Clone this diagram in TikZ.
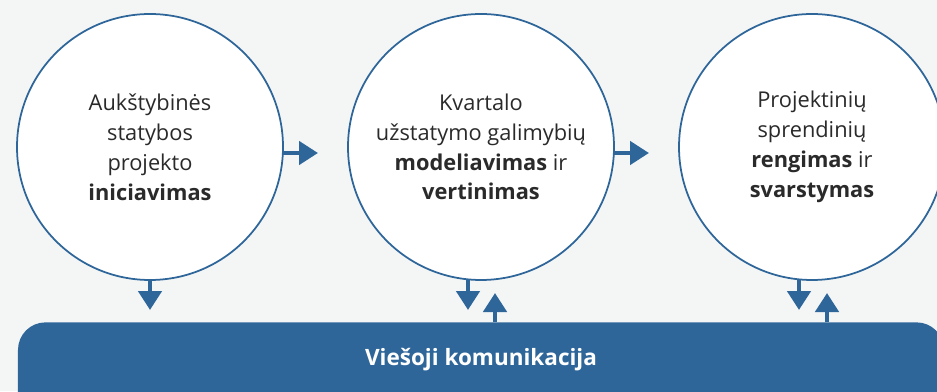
\documentclass[tikz,border=0pt]{standalone}
\usepackage{fontspec}
\setmainfont{Open Sans}
\usepackage{xcolor}
\usetikzlibrary{arrows.meta,positioning}

\definecolor{bgray}{HTML}{F4F6F6}
\definecolor{lblue}{HTML}{2E6699}
\definecolor{txtgray}{HTML}{2A2A2A}

\begin{document}
\begin{tikzpicture}[
		node distance=1.3cm,
		stage/.style={circle, draw=lblue, line width=1pt, fill=white, outer sep=0pt, minimum size=5.32cm, align=center, text=txtgray, font=\fontsize{12.4}{17}\selectfont},
		bar/.style={rectangle, fill=lblue, rounded corners=0.55cm, minimum width=18.52cm, minimum height=2.5cm, anchor=north},
		bartext/.style={text=white, font=\fontsize{12.8}{17}\selectfont\bfseries},
		arrow/.style={-{Triangle[width=0.46cm,length=0.38cm]}, line width=2.6pt, draw=lblue}
		]
		
		% Background
		\fill[bgray] (0,0) rectangle (18.74,7.82);
		\clip (0,0) rectangle (18.74,7.82);
		
		% Stages
		\node[stage] (ini) at (3.0,4.88) {Aukštybinės\\statybos\\projekto\\\textbf{iniciavimas}};
		\node[stage, right=of ini] (mod) {Kvartalo\\užstatymo galimybių\\\textbf{modeliavimas} ir\\\textbf{vertinimas}};
		\node[stage, right=of mod] (reng) {Projektinių\\sprendinių\\\textbf{rengimas} ir\\\textbf{svarstymas}};
		
		% Communication bar
		\node[bar] (kom) at (9.62,1.38) {};
		\node[bartext] (komtxt) at ([yshift=-0.76cm]kom.north) {Viešoji komunikacija};
		
		% Arrows
		\draw[arrow, shorten >=0.6cm] ([yshift=-0.12cm]ini.east) -- ([yshift=-0.12cm]mod.west);
		\draw[arrow, shorten >=0.6cm] ([yshift=-0.12cm]mod.east) -- ([yshift=-0.12cm]reng.west);
		\draw[arrow, shorten >=0.24cm] (ini.south) -- (ini.south |- kom.north);
		\draw[arrow, shorten >=0.24cm] ([xshift=-0.26cm]mod.south) -- ([xshift=-0.26cm]mod.south |- kom.north);
		\draw[arrow, shorten >=0.26cm] ([xshift=0.28cm]mod.south |- kom.north) -- ([xshift=0.28cm]mod.south);
		\draw[arrow, shorten >=0.24cm] ([xshift=-0.26cm]reng.south) -- ([xshift=-0.26cm]reng.south |- kom.north);
		\draw[arrow, shorten >=0.26cm] ([xshift=0.3cm]reng.south |- kom.north) -- ([xshift=0.3cm]reng.south);
		
	\end{tikzpicture}
\end{document}
